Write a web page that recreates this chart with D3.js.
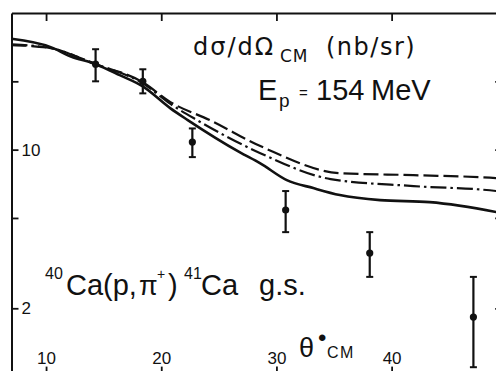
<!DOCTYPE html>
<html>
<head>
<meta charset="utf-8">
<script src="https://cdn.jsdelivr.net/npm/d3@7"></script>
<style>
  html, body { margin: 0; padding: 0; background: #fff; }
  svg { display: block; }
  .axis path, .axis line { stroke: #111; }
  .axis text { font-family: "Liberation Sans", Arial, sans-serif; fill: #111; }
</style>
</head>
<body>
<svg id="chart" width="496" height="371"></svg>
<script>
// Measured cross sections (nb/sr) vs. CM angle (deg)
const dataAngles = [14.3, 18.4, 22.7, 30.8, 38.1, 47.1];
const dataValues = [23.8, 20.0, 10.8, 5.42, 3.50, 1.83];
const dataUpper  = [27.7, 22.6, 12.4, 6.57, 4.33, 2.75];
const dataLower  = [20.0, 17.7, 9.27, 4.33, 2.75, 1.10];

// Calculations: solid, dashed and dash-dotted curves
const solidAngles = [7.0, 10.4, 12.1, 14.3, 16.4, 18.4, 20.8, 22.3, 26.8, 28.6, 30.9, 33.2, 35.5, 39.0, 43.3, 49.1, 49.6];
const solidValues = [30.8, 28.3, 25.8, 23.8, 21.3, 19.0, 15.2, 13.5, 9.75, 8.7, 7.34, 6.77, 6.31, 5.99, 5.87, 5.31, 5.25];

const dashAngles = [7.0, 10.4, 14.3, 18.4, 20.8, 24.2, 28.8, 35.5, 41.9, 49.1, 49.6];
const dashValues = [28.9, 28.0, 23.8, 19.8, 16.2, 13.5, 10.26, 7.88, 7.72, 7.49, 7.45];

const dashDotAngles = [7.0, 10.4, 14.3, 18.4, 20.8, 23.1, 28.6, 34.7, 41.9, 49.1, 49.6];
const dashDotValues = [29.1, 28.0, 23.8, 19.6, 15.9, 13.5, 9.65, 7.42, 6.91, 6.57, 6.5];

// Axis ticks
const xTicks = [10, 20, 30, 40];
const yTicks = [2, 5, 10, 20];
const yLabelled = [2, 10];

const svg = d3.select("#chart");

const x = d3.scaleLinear().domain([7, 49.6]).range([11.5, 502.2]);
const y = d3.scaleLog().domain([1, 40]).range([376.6, 13]);

const xL = x.range()[0], xR = x.range()[1];
const yB = y.range()[0], yT = y.range()[1];

// Frame and ticks
function styleAxis(g) {
  g.select(".domain").attr("stroke-width", 2);
  g.selectAll(".tick line").attr("stroke-width", 1.8);
}

svg.append("g").attr("class", "axis")
  .attr("transform", `translate(0,${yT})`)
  .call(d3.axisBottom(x).tickValues(xTicks).tickSize(8).tickSizeOuter(0).tickFormat(""))
  .call(styleAxis);

svg.append("g").attr("class", "axis")
  .attr("transform", `translate(0,${yB})`)
  .call(d3.axisTop(x).tickValues(xTicks).tickSize(10).tickSizeOuter(0).tickPadding(3).tickFormat(d3.format("d")))
  .call(styleAxis)
  .selectAll("text").attr("font-size", 17);

svg.append("g").attr("class", "axis")
  .attr("transform", `translate(${xL},0)`)
  .call(d3.axisRight(y).tickValues(yTicks).tickSize(7).tickSizeOuter(0).tickPadding(3)
    .tickFormat(d => yLabelled.includes(d) ? String(d) : ""))
  .call(styleAxis)
  .selectAll("text").attr("font-size", 17);

svg.append("g").attr("class", "axis")
  .attr("transform", `translate(${xR},0)`)
  .call(d3.axisLeft(y).tickValues(yTicks).tickSize(7).tickSizeOuter(0).tickFormat(""))
  .call(styleAxis);

// Curves
const line = d3.line()
  .x(d => x(d[0]))
  .y(d => y(d[1]))
  .curve(d3.curveMonotoneX);

const curves = [
  { a: dashAngles, v: dashValues, dash: "15 5", w: 2.2 },
  { a: dashDotAngles, v: dashDotValues, dash: "16 4 2.5 4", w: 2.2 },
  { a: solidAngles, v: solidValues, dash: null, w: 2.6 }
];

svg.append("g").selectAll("path")
  .data(curves)
  .join("path")
  .attr("d", c => line(d3.zip(c.a, c.v)))
  .attr("fill", "none")
  .attr("stroke", "#111")
  .attr("stroke-width", c => c.w)
  .attr("stroke-dasharray", c => c.dash);

// Data points with error bars
const pts = dataAngles.map((a, i) => ({ a, v: dataValues[i], hi: dataUpper[i], lo: dataLower[i] }));
const pg = svg.append("g").selectAll("g").data(pts).join("g");

pg.append("line")
  .attr("x1", d => x(d.a)).attr("x2", d => x(d.a))
  .attr("y1", d => y(d.hi)).attr("y2", d => y(d.lo))
  .attr("stroke", "#111").attr("stroke-width", 2.2);
pg.append("line")
  .attr("x1", d => x(d.a) - 3.5).attr("x2", d => x(d.a) + 3.5)
  .attr("y1", d => y(d.hi)).attr("y2", d => y(d.hi))
  .attr("stroke", "#111").attr("stroke-width", 2);
pg.append("line")
  .attr("x1", d => x(d.a) - 3.5).attr("x2", d => x(d.a) + 3.5)
  .attr("y1", d => y(d.lo)).attr("y2", d => y(d.lo))
  .attr("stroke", "#111").attr("stroke-width", 2);
pg.append("circle")
  .attr("cx", d => x(d.a)).attr("cy", d => y(d.v))
  .attr("r", 3.6).attr("fill", "#111");

// Lettering
function put(txt, px, py, size, opts = {}) {
  return svg.append("text")
    .attr("x", px).attr("y", py)
    .attr("font-family", opts.family || "'Liberation Sans', Arial, sans-serif")
    .attr("font-size", size)
    .attr("letter-spacing", opts.ls || 0)
    .attr("fill", "#111")
    .text(txt);
}

const dv = "'DejaVu Sans', sans-serif";
put("dσ/dΩ", 193, 55, 24, { family: dv, ls: 2 });
put("CM", 280, 62, 17, { family: dv, ls: 1 });
put("(nb/sr)", 326, 55, 24, { family: dv, ls: 1.5 });

put("E", 258, 100, 29);
put("p", 279, 107, 19);
put("=", 299, 98, 15);
put("154", 316, 100, 29);
put("MeV", 371, 100, 29);

put("40", 45, 279, 16);
put("Ca(p,", 66, 295, 29);
put("π", 139, 295, 27);
put("+", 157, 279, 14);
put(")", 168, 295, 29);
put("41", 184, 279, 16);
put("Ca", 201, 295, 29);
put("g.s.", 259, 295, 29);

put("θ", 299, 357, 27);
put("•", 318, 346, 24);
put("CM", 327, 358, 16, { ls: 1.5 });
</script>
</body>
</html>
